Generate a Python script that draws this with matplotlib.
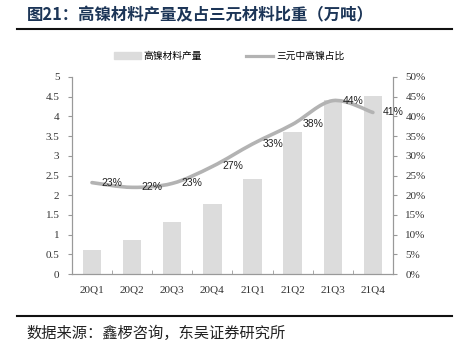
import numpy as np
import matplotlib
matplotlib.use("Agg")
import matplotlib.pyplot as plt
from matplotlib.path import Path
from matplotlib.patches import PathPatch
from matplotlib.lines import Line2D
from matplotlib.ticker import FixedLocator

plt.rcParams['font.family'] = ['Noto Sans CJK SC', 'DejaVu Sans']

quarters = ["20Q1", "20Q2", "20Q3", "20Q4", "21Q1", "21Q2", "21Q3", "21Q4"]
output = [0.62, 0.87, 1.33, 1.79, 2.42, 3.61, 4.41, 4.51]
share = [23.2, 22.0, 23.0, 27.3, 33.0, 38.0, 44.0, 41.0]
share_labels = ["23%", "22%", "23%", "27%", "33%", "38%", "44%", "41%"]

fig = plt.figure(figsize=(4.58, 3.5), dpi=100)
ax = fig.add_axes([0.157, 0.217, 0.701, 0.563])
ax2 = ax.twinx()

x = np.arange(len(quarters))
ax.bar(x, output, width=0.46, color="#dcdcdc", zorder=2)
ax.set_xlim(-0.5, len(quarters) - 0.5)
ax.set_ylim(0, 5)
ax.set_yticks(np.arange(0, 5.01, 0.5))
ax.set_yticklabels(["0", "0.5", "1", "1.5", "2", "2.5", "3", "3.5", "4", "4.5", "5"])
ax2.set_ylim(0, 50)
ax2.set_yticks(np.arange(0, 51, 5))
ax2.set_yticklabels([f"{v}%" for v in range(0, 51, 5)])

# smooth curve through the points (Catmull-Rom as bezier segments)
pts = np.column_stack([x, share])
verts = [tuple(pts[0])]
codes = [Path.MOVETO]
for i in range(len(pts) - 1):
    p0 = pts[i - 1] if i > 0 else pts[i]
    p1 = pts[i]
    p2 = pts[i + 1]
    p3 = pts[i + 2] if i + 2 < len(pts) else pts[i + 1]
    c1 = p1 + (p2 - p0) / 6
    c2 = p2 - (p3 - p1) / 6
    verts += [tuple(c1), tuple(c2), tuple(p2)]
    codes += [Path.CURVE4] * 3
ax2.add_patch(PathPatch(Path(verts, codes), fill=False, edgecolor="#b3b3b3",
                        lw=2.6, zorder=3, capstyle="round"))

for xi, v, lab in zip(x, share, share_labels):
    ax2.text(xi + 0.5, v, lab, ha="center", va="center", fontsize=7.5,
             family=["Liberation Sans", "DejaVu Sans"], color="#222222", zorder=4)

serif = ["Liberation Serif", "DejaVu Serif"]
ax.set_xticks(x)
ax.set_xticklabels(quarters)
ax.xaxis.set_minor_locator(FixedLocator(np.arange(-0.5, len(quarters), 1)))
ax.tick_params(axis="x", which="major", length=0, pad=8, labelsize=8)
ax.tick_params(axis="x", which="minor", length=3, direction="in", color="#999999")
ax.tick_params(axis="y", length=3, color="#999999", labelsize=8, pad=6)
ax2.tick_params(axis="y", length=3, color="#999999", labelsize=8, pad=6)
for lab in ax.get_xticklabels() + ax.get_yticklabels() + ax2.get_yticklabels():
    lab.set_family(serif)
    lab.set_color("#333333")

for a in (ax, ax2):
    a.spines["top"].set_visible(False)
    for s in ("left", "right", "bottom"):
        a.spines[s].set_color("#999999")
        a.spines[s].set_linewidth(0.8)

handles = [plt.Rectangle((0, 0), 1, 1, color="#dcdcdc"),
           Line2D([0], [0], color="#b3b3b3", lw=2.3)]
fig.legend(handles, ["高镍材料产量", "三元中高镍占比"], loc="center",
           bbox_to_anchor=(0.5, 0.84), ncol=2, frameon=False, fontsize=7,
           handlelength=2.8, columnspacing=4.5, handletextpad=0.3)

fig.text(0.058, 0.955, "图21：高镍材料产量及占三元材料比重（万吨）", fontsize=11.8,
         fontweight="bold", color="#1c3557", va="center", ha="left")
fig.add_artist(Line2D([0.037, 0.986], [0.917, 0.917], color="#111111", lw=1.5))
fig.add_artist(Line2D([0.037, 0.986], [0.097, 0.097], color="#111111", lw=1.5))
fig.text(0.058, 0.048, "数据来源：鑫椤咨询，东吴证券研究所", fontsize=11,
         color="#222222", va="center", ha="left")

fig.savefig("out.png", dpi=100)
